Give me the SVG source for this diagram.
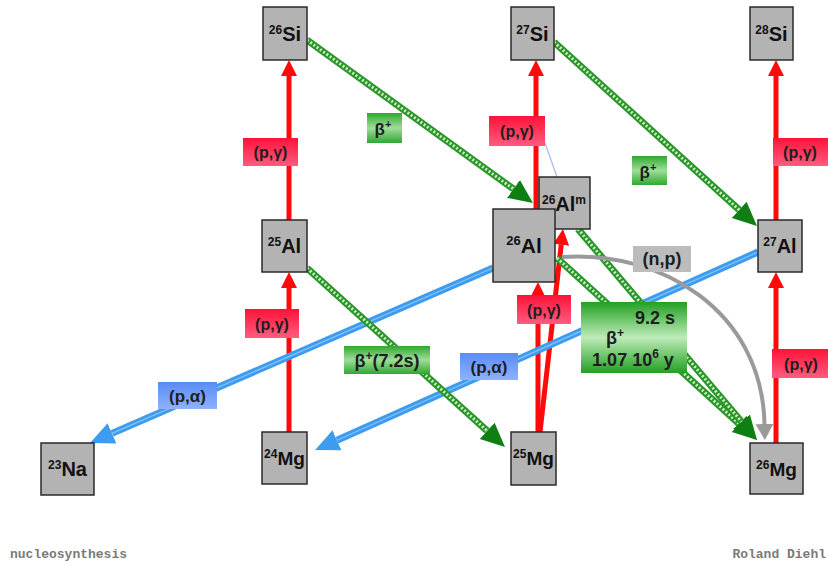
<svg xmlns="http://www.w3.org/2000/svg" width="828" height="565" viewBox="0 0 828 565">
<defs>
<style>
.node rect{fill:#b3b3b3;stroke:#2a2a2a;stroke-width:1.5}
.node text{font-family:"Liberation Sans",Arial,sans-serif;font-weight:bold;fill:#111;text-anchor:middle}
.lbl{font-family:"Liberation Sans",Arial,sans-serif;font-weight:bold;fill:#1e1e1e;text-anchor:middle}
.red{stroke:#ff0a0a;stroke-width:5;fill:none;marker-end:url(#rh)}
.grn{stroke:#2a962a;stroke-width:7;fill:none}
.grnH{marker-end:url(#gh)}
.grnD{stroke:#c9efc0;stroke-width:3;stroke-dasharray:2 2;fill:none}
.blu{stroke:#3d9cf0;stroke-width:7;fill:none;marker-end:url(#bh)}
.bluL{stroke:#86c2f8;stroke-width:1.2;fill:none}
.gry{stroke:#9a9a9a;stroke-width:4;fill:none;marker-end:url(#yh)}
.foot{font-family:"Liberation Mono","Courier New",monospace;font-weight:bold;font-size:13px;fill:#7a7a7a}
</style>
<linearGradient id="gRed" x1="0" y1="0" x2="0" y2="1"><stop offset="0" stop-color="#ff1238"/><stop offset="1" stop-color="#ff5c80"/></linearGradient>
<linearGradient id="gGrn" x1="0" y1="0" x2="0" y2="1"><stop offset="0" stop-color="#2fa82f"/><stop offset="0.5" stop-color="#9fdd9a"/><stop offset="1" stop-color="#2fa82f"/></linearGradient>
<linearGradient id="gBig" x1="0" y1="0" x2="0" y2="1"><stop offset="0" stop-color="#22a022"/><stop offset="0.5" stop-color="#bdebb8"/><stop offset="1" stop-color="#22a022"/></linearGradient>
<linearGradient id="gBlu" x1="0" y1="0" x2="0" y2="1"><stop offset="0" stop-color="#5a8cf5"/><stop offset="1" stop-color="#8fb2ff"/></linearGradient>
<marker id="rh" markerUnits="userSpaceOnUse" viewBox="0 -9 17 18" markerWidth="17" markerHeight="18" refX="0" refY="0" orient="auto"><path d="M0,-8 L16,0 L0,8 z" fill="#ff0a0a"/></marker>
<marker id="gh" markerUnits="userSpaceOnUse" viewBox="0 -12 25 24" markerWidth="25" markerHeight="24" refX="0" refY="0" orient="auto"><path d="M0,-11 L24,0 L0,11 z" fill="#0f7f14"/></marker>
<marker id="bh" markerUnits="userSpaceOnUse" viewBox="0 -12 25 24" markerWidth="25" markerHeight="24" refX="0" refY="0" orient="auto"><path d="M0,-11 L24,0 L0,11 z" fill="#3d9cf0"/></marker>
<marker id="yh" markerUnits="userSpaceOnUse" viewBox="0 -10 17 20" markerWidth="17" markerHeight="20" refX="0" refY="0" orient="auto"><path d="M0,-9 L16,0 L0,9 z" fill="#9a9a9a"/></marker>
</defs>
<rect width="828" height="565" fill="#ffffff"/>
<g id="connectors">
<line class="red" x1="289" y1="432" x2="289" y2="288"/>
<line class="red" x1="289" y1="220" x2="289" y2="76"/>
<line class="red" x1="536" y1="209" x2="536" y2="76"/>
<line class="red" x1="776" y1="220" x2="776" y2="76"/>
<line class="red" x1="776" y1="443" x2="776" y2="288"/>
<line class="red" x1="538" y1="432" x2="538" y2="298"/>
<line class="red" x1="540" y1="432" x2="561.2" y2="244.9"/>
<line x1="545" y1="143" x2="557" y2="177" stroke="#aab6ee" stroke-width="1.2"/>
<line class="blu" x1="493" y1="268" x2="112" y2="433.4"/>
<line class="bluL" x1="493" y1="268" x2="112" y2="433.4"/>
<line class="blu" x1="758" y1="252" x2="337" y2="440.2"/>
<line class="bluL" x1="758" y1="252" x2="337" y2="440.2"/>
<line class="grn grnH" x1="307" y1="40" x2="513.5" y2="189"/>
<line class="grnD" x1="307" y1="40" x2="513.5" y2="189"/>
<line class="grn grnH" x1="554" y1="42" x2="739.2" y2="209.9"/>
<line class="grnD" x1="554" y1="42" x2="739.2" y2="209.9"/>
<line class="grn grnH" x1="307" y1="268" x2="487.2" y2="430.9"/>
<line class="grnD" x1="307" y1="268" x2="487.2" y2="430.9"/>
<line class="grn grnH" x1="557" y1="258" x2="739.2" y2="423.8"/>
<line class="grnD" x1="557" y1="258" x2="739.2" y2="423.8"/>
<line class="grn grnH" x1="578" y1="229" x2="741.5" y2="421.7"/>
<line class="grnD" x1="578" y1="229" x2="741.5" y2="421.7"/>
<path class="gry" d="M562,257 C660,250 762,310 764.5,424"/>
<rect x="243" y="138" width="55" height="28" fill="url(#gRed)"/>
<text class="lbl" x="270.5" y="158" font-size="16">(p,γ)</text>
<rect x="245" y="309" width="54" height="29" fill="url(#gRed)"/>
<text class="lbl" x="272" y="329.5" font-size="16">(p,γ)</text>
<rect x="489" y="116" width="56" height="30" fill="url(#gRed)"/>
<text class="lbl" x="517" y="137" font-size="16">(p,γ)</text>
<rect x="517" y="295" width="54" height="29" fill="url(#gRed)"/>
<text class="lbl" x="544" y="315.5" font-size="16">(p,γ)</text>
<rect x="773" y="138" width="60" height="28" fill="url(#gRed)"/>
<text class="lbl" x="800" y="158" font-size="16">(p,γ)</text>
<rect x="772" y="349" width="60" height="29" fill="url(#gRed)"/>
<text class="lbl" x="801" y="369.5" font-size="16">(p,γ)</text>
<rect x="367" y="113" width="35" height="30" fill="url(#gGrn)"/>
<text class="lbl" x="383" y="135" font-size="17">β<tspan font-size="11" dy="-7">+</tspan></text>
<rect x="632" y="156" width="35" height="29" fill="url(#gGrn)"/>
<text class="lbl" x="648" y="177.5" font-size="17">β<tspan font-size="11" dy="-7">+</tspan></text>
<rect x="344" y="346" width="86" height="28" fill="url(#gGrn)"/>
<text class="lbl" x="387" y="366.5" font-size="18">β<tspan font-size="12" dy="-7">+</tspan><tspan dy="7">(7.2s)</tspan></text>
<rect x="581" y="302" width="106" height="71" fill="url(#gBig)"/>
<text class="lbl" x="655" y="324" font-size="18">9.2 s</text>
<text class="lbl" x="615" y="344" font-size="18">β<tspan font-size="12" dy="-7">+</tspan></text>
<text class="lbl" x="633" y="366" font-size="18">1.07 10<tspan font-size="12" dy="-8">6</tspan><tspan dy="8"> y</tspan></text>
<rect x="158" y="382" width="59" height="27" fill="url(#gBlu)"/>
<text class="lbl" x="187.5" y="401.5" font-size="17">(p,α)</text>
<rect x="460" y="353" width="58" height="27" fill="url(#gBlu)"/>
<text class="lbl" x="489" y="372.5" font-size="17">(p,α)</text>
<rect x="633" y="246" width="58" height="26" fill="#bcbcbc"/>
<text class="lbl" x="662" y="265" font-size="18">(n,p)</text>
</g>
<g id="n26Si" class="node"><rect x="263" y="7" width="44" height="53"/><text x="285" y="41" font-size="20"><tspan font-size="12" dy="-7">26</tspan><tspan dy="7">Si</tspan></text></g>
<g id="n27Si" class="node"><rect x="511" y="7" width="43" height="53"/><text x="532.5" y="41" font-size="20"><tspan font-size="12" dy="-7">27</tspan><tspan dy="7">Si</tspan></text></g>
<g id="n28Si" class="node"><rect x="750" y="7" width="43" height="53"/><text x="771.5" y="41" font-size="20"><tspan font-size="12" dy="-7">28</tspan><tspan dy="7">Si</tspan></text></g>
<g id="n25Al" class="node"><rect x="262" y="220" width="45" height="52"/><text x="284.5" y="253" font-size="20"><tspan font-size="12" dy="-7">25</tspan><tspan dy="7">Al</tspan></text></g>
<g id="n26Alm" class="node"><rect x="539" y="177" width="51" height="52"/><text x="564" y="211" font-size="20"><tspan font-size="12" dy="-7">26</tspan><tspan dy="7">Al</tspan><tspan font-size="12" dy="-7">m</tspan></text></g>
<g id="n26Al" class="node"><rect x="493" y="209" width="62" height="73"/><text x="524" y="253" font-size="21"><tspan font-size="13" dy="-8">26</tspan><tspan dy="8">Al</tspan></text></g>
<g id="n27Al" class="node"><rect x="758" y="220" width="44" height="52"/><text x="780" y="253" font-size="20"><tspan font-size="12" dy="-7">27</tspan><tspan dy="7">Al</tspan></text></g>
<g id="n23Na" class="node"><rect x="41" y="443" width="53" height="52"/><text x="67.5" y="476" font-size="20"><tspan font-size="12" dy="-7">23</tspan><tspan dy="7">Na</tspan></text></g>
<g id="n24Mg" class="node"><rect x="262" y="432" width="45" height="52"/><text x="284.5" y="465" font-size="19"><tspan font-size="12" dy="-7">24</tspan><tspan dy="7">Mg</tspan></text></g>
<g id="n25Mg" class="node"><rect x="511" y="432" width="45" height="53"/><text x="533.5" y="465" font-size="19"><tspan font-size="12" dy="-7">25</tspan><tspan dy="7">Mg</tspan></text></g>
<g id="n26Mg" class="node"><rect x="750" y="443" width="53" height="51"/><text x="776.5" y="476" font-size="19"><tspan font-size="12" dy="-7">26</tspan><tspan dy="7">Mg</tspan></text></g>
<text class="foot" x="10" y="558">nucleosynthesis</text>
<text class="foot" x="826" y="558" text-anchor="end">Roland Diehl</text>
</svg>
